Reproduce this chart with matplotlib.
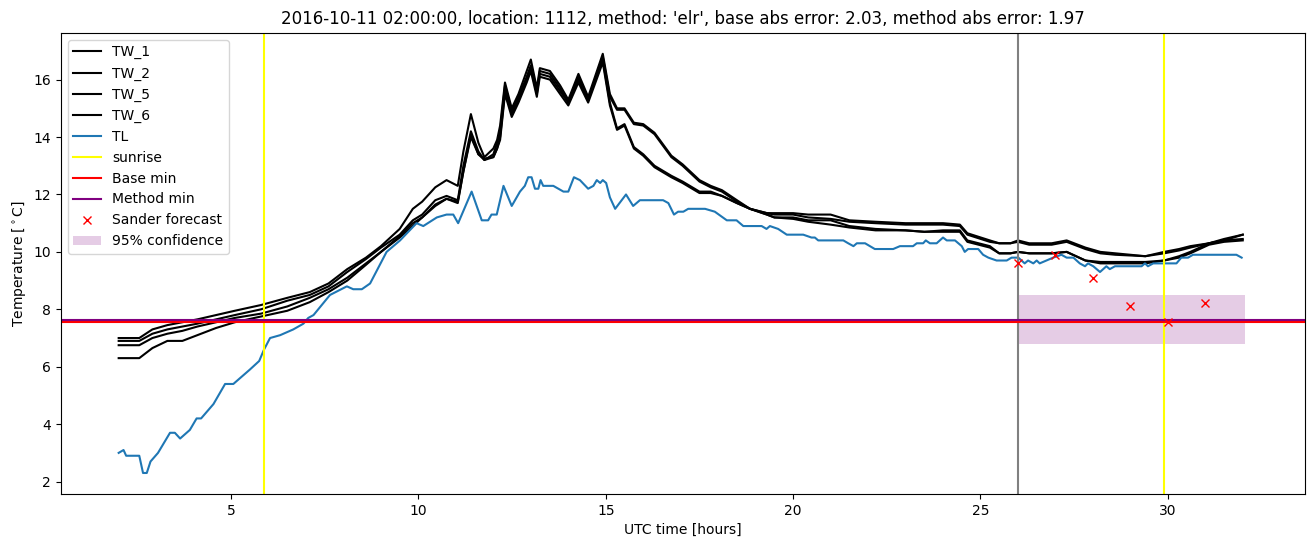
import matplotlib
matplotlib.use('Agg')
import matplotlib.pyplot as plt

# TL station temperature (hours UTC, degC)
tl_hours = [2.0, 2.13, 2.2, 2.55, 2.65, 2.75, 2.85, 3.05, 3.37, 3.5, 3.64, 3.9, 4.08, 4.2,
            4.53, 4.84, 5.06, 5.5, 5.75, 5.88, 6.04, 6.31, 6.66, 6.93, 7.06, 7.2, 7.64, 8.09,
            8.26, 8.49, 8.71, 9.15, 9.51, 9.95, 10.13, 10.49, 10.75, 10.93, 11.06, 11.42, 11.69,
            11.86, 11.95, 12.09, 12.27, 12.49, 12.71, 12.84, 12.93, 13.02, 13.11, 13.2, 13.26,
            13.33, 13.6, 13.87, 14.0, 14.15, 14.31, 14.53, 14.67, 14.76, 14.85, 14.92, 15.01,
            15.11, 15.25, 15.54, 15.73, 15.91, 16.53, 16.67, 16.82, 16.93, 17.07, 17.2, 17.65,
            17.91, 18.23, 18.49, 18.67, 19.16, 19.29, 19.38, 19.6, 19.83, 20.27, 20.49, 20.58,
            20.67, 21.34, 21.47, 21.61, 21.7, 21.92, 22.18, 22.67, 22.85, 23.2, 23.3, 23.47,
            23.54, 23.65, 23.83, 24.0, 24.1, 24.32, 24.5, 24.58, 24.67, 24.94, 25.07, 25.21,
            25.43, 25.7, 25.83, 26.01, 26.18, 26.27, 26.41, 26.5, 26.58, 26.76, 26.94, 27.16,
            27.3, 27.48, 27.65, 27.79, 27.87, 28.01, 28.19, 28.36, 28.45, 28.59, 29.3, 29.39,
            29.47, 29.61, 30.23, 30.36, 30.54, 30.67, 31.83, 31.97]
tl_temp = [3.0, 3.1, 2.9, 2.9, 2.3, 2.3, 2.7, 3.0, 3.7, 3.7, 3.5, 3.8, 4.2, 4.2,
           4.7, 5.4, 5.4, 5.9, 6.2, 6.6, 7.0, 7.1, 7.3, 7.5, 7.7, 7.8, 8.5, 8.8,
           8.7, 8.7, 8.9, 10.0, 10.4, 11.0, 10.9, 11.2, 11.3, 11.3, 11.0, 12.1, 11.1,
           11.1, 11.3, 11.3, 12.3, 11.6, 12.1, 12.3, 12.6, 12.6, 12.2, 12.2, 12.5,
           12.3, 12.3, 12.1, 12.1, 12.6, 12.5, 12.2, 12.3, 12.5, 12.4, 12.5, 12.4,
           11.9, 11.5, 12.0, 11.6, 11.8, 11.8, 11.7, 11.3, 11.4, 11.4, 11.5, 11.5,
           11.4, 11.1, 11.1, 10.9, 10.9, 10.8, 10.9, 10.8, 10.6, 10.6, 10.5, 10.5,
           10.4, 10.4, 10.3, 10.2, 10.3, 10.3, 10.1, 10.1, 10.2, 10.2, 10.3, 10.3,
           10.4, 10.3, 10.3, 10.5, 10.4, 10.4, 10.2, 10.0, 10.1, 10.1, 9.9, 9.8,
           9.7, 9.7, 9.8, 9.8, 9.6, 9.7, 9.6, 9.7, 9.6, 9.7, 9.8, 9.9,
           9.8, 9.8, 9.6, 9.5, 9.6, 9.5, 9.3, 9.5, 9.4, 9.5, 9.5, 9.6,
           9.5, 9.6, 9.6, 9.8, 9.8, 9.9, 9.9, 9.8]

# TW road sensors, shared time axis
tw_hours = [2.0, 2.55, 2.9, 3.3, 3.7, 4.1, 4.6, 5.1, 5.8, 6.5, 7.1, 7.6, 8.1, 8.6, 9.0, 9.5,
            9.85, 10.1, 10.45, 10.75, 11.05, 11.2, 11.4, 11.6, 11.76, 12.0, 12.1, 12.18, 12.31,
            12.49, 12.67, 12.89, 13.0, 13.16, 13.24, 13.51, 13.78, 14.0, 14.27, 14.53, 14.92,
            15.11, 15.3, 15.5, 15.75, 16.0, 16.3, 16.75, 17.05, 17.5, 17.8, 18.1, 18.5, 18.85,
            19.3, 19.5, 20.0, 20.4, 21.0, 21.5, 22.2, 23.0, 23.5, 24.0, 24.45, 24.65, 25.25,
            25.5, 25.8, 26.0, 26.3, 26.9, 27.3, 27.8, 28.2, 28.6, 29.4, 29.9, 30.3, 30.6, 31.1,
            31.5, 32.0]
tw_1 = [7.0, 7.0, 7.3, 7.45, 7.55, 7.65, 7.8, 7.95, 8.15, 8.4, 8.6, 8.9, 9.4, 9.8, 10.2, 10.8,
        11.5, 11.75, 12.25, 12.5, 12.3, 13.5, 14.8, 13.8, 13.3, 13.6, 13.9, 14.4, 15.9,
        15.0, 15.5, 16.3, 16.7, 15.7, 16.4, 16.3, 15.8, 15.3, 16.2, 15.4, 16.9,
        15.5, 15.0, 15.0, 14.5, 14.45, 14.15, 13.35, 13.05, 12.5, 12.3, 12.15, 11.8, 11.5,
        11.35, 11.35, 11.35, 11.3, 11.3, 11.1, 11.05, 11.0, 11.0, 11.0, 10.95, 10.65, 10.4,
        10.3, 10.3, 10.4, 10.3, 10.3, 10.4, 10.15, 10.0, 9.95, 9.85, 10.0, 10.1, 10.2, 10.3,
        10.45, 10.6]
tw_2 = [6.9, 6.9, 7.15, 7.3, 7.4, 7.5, 7.65, 7.8, 8.0, 8.3, 8.5, 8.8, 9.3, 9.75, 10.15, 10.6,
        11.1, 11.3, 11.8, 11.95, 11.8, 13.0, 14.2, 13.5, 13.2, 13.4, 13.8, 14.2, 15.8,
        14.9, 15.4, 16.1, 16.5, 15.6, 16.3, 16.2, 15.7, 15.2, 16.1, 15.3, 16.8,
        15.4, 14.95, 14.95, 14.45, 14.4, 14.1, 13.3, 13.0, 12.45, 12.25, 12.1, 11.75, 11.5,
        11.35, 11.3, 11.3, 11.2, 11.15, 11.05, 11.0, 10.95, 10.95, 10.95, 10.9, 10.6, 10.35,
        10.3, 10.3, 10.35, 10.25, 10.25, 10.35, 10.1, 9.95, 9.9, 9.85, 9.95, 10.05, 10.15, 10.3,
        10.4, 10.6]
tw_5 = [6.75, 6.75, 7.0, 7.15, 7.25, 7.4, 7.55, 7.7, 7.85, 8.1, 8.4, 8.7, 9.1, 9.6, 10.0, 10.5,
        10.9, 11.2, 11.6, 11.85, 11.7, 12.8, 14.1, 13.4, 13.2, 13.3, 13.6, 14.0, 15.6,
        14.8, 15.3, 16.0, 16.4, 15.5, 16.2, 16.1, 15.6, 15.2, 16.0, 15.3, 16.7,
        15.2, 14.3, 14.45, 13.65, 13.4, 13.0, 12.65, 12.45, 12.1, 12.1, 11.95, 11.7, 11.5,
        11.3, 11.2, 11.2, 11.1, 11.1, 10.9, 10.8, 10.75, 10.7, 10.75, 10.75, 10.4, 10.2,
        9.95, 9.95, 10.0, 9.95, 9.95, 10.0, 9.7, 9.65, 9.65, 9.65, 9.7, 9.85, 10.0, 10.3,
        10.4, 10.45]
tw_6 = [6.3, 6.3, 6.65, 6.9, 6.9, 7.1, 7.35, 7.55, 7.75, 7.95, 8.25, 8.6, 9.0, 9.55, 10.0, 10.55,
        11.0, 11.2, 11.65, 11.85, 11.75, 12.8, 14.0, 13.4, 13.25, 13.3, 13.6, 13.9, 15.5,
        14.7, 15.2, 15.9, 16.3, 15.4, 16.1, 16.0, 15.5, 15.1, 15.9, 15.2, 16.6,
        15.1, 14.25, 14.4, 13.6, 13.35, 12.95, 12.6, 12.4, 12.05, 12.05, 11.95, 11.7, 11.5,
        11.3, 11.2, 11.15, 11.05, 10.95, 10.85, 10.75, 10.75, 10.7, 10.7, 10.7, 10.35, 10.15,
        9.95, 9.95, 10.0, 9.95, 9.95, 10.0, 9.7, 9.6, 9.6, 9.6, 9.7, 9.8, 9.95, 10.25,
        10.35, 10.4]

sunrise = [5.88, 29.91]
forecast_start = 26.0
base_min = 7.56
method_min = 7.645
sander_hours = [26, 27, 28, 29, 30, 31]
sander_temp = [9.6, 9.88, 9.08, 8.13, 7.57, 8.21]
conf_hours = [26.0, 32.05]
conf_low = 6.8
conf_high = 8.5

fig, ax = plt.subplots(figsize=(13.11, 5.47), dpi=100)
fig.subplots_adjust(left=0.0465, right=0.9954, top=0.94, bottom=0.097)

ax.plot(tw_hours, tw_1, color='black', label='TW_1')
ax.plot(tw_hours, tw_2, color='black', label='TW_2')
ax.plot(tw_hours, tw_5, color='black', label='TW_5')
ax.plot(tw_hours, tw_6, color='black', label='TW_6')
ax.plot(tl_hours, tl_temp, color='tab:blue', label='TL')

ax.axvline(sunrise[0], color='yellow', label='sunrise')
ax.axvline(sunrise[1], color='yellow')
ax.axvline(forecast_start, color='grey')
ax.axhline(base_min, color='red', label='Base min')
ax.axhline(method_min, color='purple', label='Method min')
ax.plot(sander_hours, sander_temp, 'rx', label='Sander forecast')
ax.fill_between(conf_hours, conf_low, conf_high, color='purple', alpha=0.2, lw=0,
                label='95% confidence')

ax.set_xlim(0.46, 33.66)
ax.set_xlabel('UTC time [hours]')
ax.set_ylabel(r'Temperature [$^\circ$C]')
ax.set_title("2016-10-11 02:00:00, location: 1112, method: 'elr', "
             "base abs error: 2.03, method abs error: 1.97")
ax.legend(loc='upper left')

fig.savefig('out.png')
